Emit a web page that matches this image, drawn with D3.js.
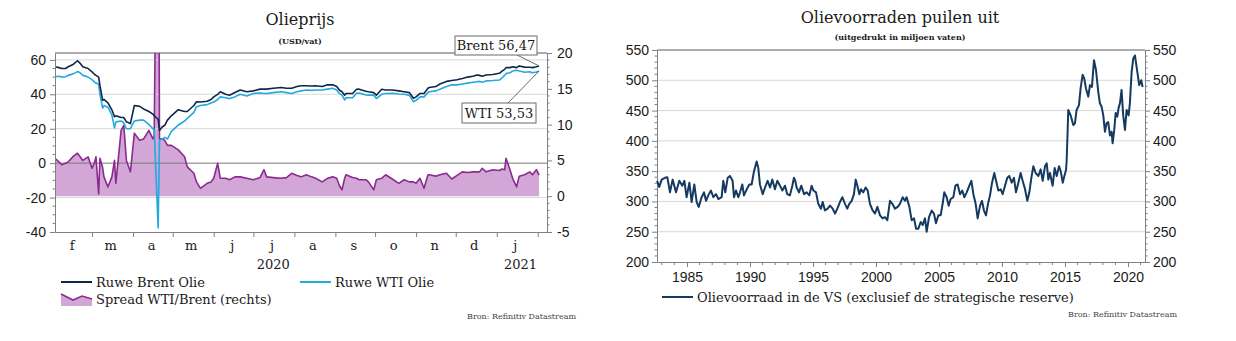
<!DOCTYPE html>
<html><head><meta charset="utf-8">
<script src="https://cdn.jsdelivr.net/npm/d3@7"></script>
<style>body{margin:0;background:#fff} svg{display:block}</style>
</head><body><svg id="c" width="1236" height="341"></svg>
<script>
// ---------- Data: oil prices (USD/barrel) ----------
const priceDates = ["2020-02-02","2020-02-05","2020-02-07","2020-02-10","2020-02-12","2020-02-16","2020-02-19","2020-02-21","2020-02-23","2020-02-27",
"2020-03-01","2020-03-03","2020-03-04","2020-03-06","2020-03-07","2020-03-09","2020-03-10","2020-03-13","2020-03-16","2020-03-18","2020-03-19","2020-03-23","2020-03-25","2020-03-27","2020-03-30",
"2020-04-02","2020-04-06","2020-04-09","2020-04-13","2020-04-16","2020-04-17","2020-04-20","2020-04-21","2020-04-23","2020-04-25","2020-04-27","2020-04-30",
"2020-05-05","2020-05-10","2020-05-12","2020-05-17","2020-05-19","2020-05-22","2020-05-27","2020-05-30",
"2020-06-01","2020-06-04","2020-06-06","2020-06-10","2020-06-13","2020-06-17","2020-06-21","2020-06-26",
"2020-07-01","2020-07-06","2020-07-09","2020-07-11","2020-07-16","2020-07-22","2020-07-26","2020-07-30",
"2020-08-03","2020-08-06","2020-08-10","2020-08-14","2020-08-17","2020-08-22","2020-08-26","2020-08-30",
"2020-09-02","2020-09-04","2020-09-06","2020-09-08","2020-09-09","2020-09-14","2020-09-17","2020-09-19","2020-09-24","2020-09-26","2020-09-30",
"2020-10-02","2020-10-06","2020-10-09","2020-10-14","2020-10-19","2020-10-23","2020-10-27","2020-10-30",
"2020-11-01","2020-11-04","2020-11-07","2020-11-10","2020-11-11","2020-11-16","2020-11-19","2020-11-24","2020-11-28",
"2020-12-02","2020-12-06","2020-12-10","2020-12-14","2020-12-17","2020-12-19","2020-12-21","2020-12-24","2020-12-29",
"2021-01-03","2021-01-05","2021-01-07","2021-01-08","2021-01-11","2021-01-13","2021-01-16","2021-01-18","2021-01-22","2021-01-26","2021-01-28","2021-01-31","2021-02-02"];
const brent = [56.0,55.5,55.0,55.0,56.0,57.5,59.5,58.0,56.0,55.0,
53.0,51.5,51.0,50.0,45.0,36.5,37.0,35.0,31.0,27.0,27.5,26.5,26.5,24.0,23.0,
33.5,33.0,31.5,30.0,28.5,27.5,25.5,19.0,21.0,22.0,25.0,27.5,
31.0,30.0,30.0,33.5,35.7,35.5,36.0,37.0,
38.5,40.0,41.5,40.0,39.5,41.0,42.5,41.5,
42.0,43.0,43.0,43.0,43.5,44.0,43.5,43.5,
44.5,45.0,45.0,44.8,45.0,44.5,45.5,45.5,
44.5,42.5,41.5,39.5,40.5,40.5,42.9,43.0,41.8,41.5,41.0,
39.5,42.9,42.5,42.5,42.0,41.5,41.0,37.7,
38.5,40.5,40.5,43.5,44.0,44.5,46.0,47.5,48.0,
48.5,49.2,50.0,50.5,51.2,51.0,50.5,51.2,51.5,
52.2,53.5,54.5,55.5,55.5,56.0,55.5,56.5,55.8,55.7,55.5,56.0,56.47];
const wti = [50.2,50.5,50.0,50.2,51.0,52.0,53.2,52.5,51.0,50.0,
48.5,47.0,46.5,46.0,40.0,32.0,33.5,32.5,28.0,20.5,24.0,24.5,23.5,20.0,20.0,
24.5,25.0,25.0,22.5,20.0,19.5,-37.6,13.5,14.0,15.0,14.0,18.5,
22.0,24.5,26.0,29.5,32.8,33.5,34.0,35.0,
35.5,37.0,38.5,38.0,37.5,38.5,40.0,39.0,
40.5,40.8,40.5,40.5,41.0,41.5,41.0,40.5,
41.5,42.0,42.5,42.3,42.5,42.5,43.0,43.5,
42.5,40.5,39.5,36.7,38.0,38.0,40.6,40.8,39.6,39.5,39.5,
37.5,40.0,40.5,40.6,40.2,40.0,39.4,35.7,
36.5,38.5,38.5,41.0,41.5,42.0,43.0,44.5,45.5,
45.5,46.0,46.5,47.0,47.3,47.5,47.0,47.8,48.0,
48.3,49.5,51.0,52.0,52.5,53.5,54.0,53.5,52.8,53.1,52.5,53.0,53.53];
const spread = [5.3,4.8,4.4,4.6,4.8,5.6,6.0,5.5,5.0,5.5,
3.9,4.8,5.5,0.3,5.3,4.0,2.7,1.3,2.7,5.0,1.8,9.2,9.9,5.0,3.4,
8.8,7.8,8.0,9.2,8.0,8.5,63.1,8.0,8.0,7.8,7.1,7.1,
6.5,5.5,4.1,3.2,2.0,1.1,1.8,2.0,
2.5,4.6,2.5,2.5,2.3,2.7,2.7,2.5,
2.3,2.6,3.7,2.7,2.6,2.5,2.6,3.2,
2.9,2.7,3.0,2.7,2.5,2.0,2.5,2.7,
2.5,1.5,0.9,2.5,3.0,2.6,2.5,2.3,2.3,2.0,0.9,
2.3,2.5,3.0,2.4,1.8,2.3,2.0,2.0,
1.8,2.5,1.1,3.0,3.0,2.8,3.0,3.2,2.4,
2.9,3.4,3.3,3.4,3.4,3.4,3.9,3.4,3.7,
3.6,3.8,3.7,5.3,3.7,2.5,1.3,2.8,3.0,3.4,3.0,3.7,2.94];
const monthLabels = ["f","m","a","m","j","j","a","s","o","n","d","j"];
const yearLabels = ["2020","2021"];
const leftTicks = [-40,-20,0,20,40,60];
const rightTicks = [-5,0,5,10,15,20];

// ---------- Data: US crude stocks (million barrels) ----------
const stockYears = [1982.63,1982.80,1982.99,1983.25,1983.44,1983.65,1983.86,1984.13,1984.39,1984.63,1984.79,1984.97,1985.19,1985.37,1985.58,1985.77,1985.93,1986.16,1986.35,1986.51,1986.69,1986.90,1987.09,1987.30,1987.49,1987.75,1987.88,1988.04,1988.23,1988.41,1988.62,1988.73,1988.89,1989.07,1989.21,1989.39,1989.52,1989.74,1989.95,1990.13,1990.32,1990.53,1990.66,1990.79,1991.01,1991.19,1991.40,1991.59,1991.77,1991.98,1992.17,1992.38,1992.57,1992.78,1992.96,1993.17,1993.36,1993.49,1993.60,1993.70,1993.89,1994.07,1994.29,1994.50,1994.71,1994.89,1995.03,1995.24,1995.42,1995.63,1995.77,1995.95,1996.16,1996.35,1996.56,1996.75,1996.93,1997.14,1997.33,1997.54,1997.72,1997.88,1998.07,1998.25,1998.39,1998.52,1998.68,1998.81,1998.99,1999.18,1999.34,1999.52,1999.74,1999.92,2000.11,2000.32,2000.53,2000.71,2000.90,2001.11,2001.30,2001.51,2001.72,2001.90,2002.12,2002.30,2002.43,2002.65,2002.83,2003.02,2003.18,2003.36,2003.55,2003.71,2003.89,2004.02,2004.21,2004.42,2004.60,2004.76,2004.95,2005.13,2005.29,2005.42,2005.61,2005.77,2005.93,2006.14,2006.30,2006.48,2006.67,2006.85,2007.01,2007.20,2007.41,2007.57,2007.73,2007.91,2008.07,2008.26,2008.41,2008.57,2008.73,2008.89,2009.05,2009.21,2009.39,2009.53,2009.71,2009.90,2010.05,2010.24,2010.42,2010.58,2010.77,2010.95,2011.11,2011.30,2011.48,2011.64,2011.83,2012.01,2012.17,2012.33,2012.49,2012.67,2012.89,2013.07,2013.23,2013.41,2013.55,2013.68,2013.81,2014.02,2014.18,2014.34,2014.53,2014.66,2014.82,2014.95,2015.08,2015.13,2015.20,2015.26,2015.45,2015.66,2015.79,2015.92,2016.11,2016.24,2016.40,2016.53,2016.66,2016.85,2016.98,2017.14,2017.30,2017.46,2017.64,2017.77,2017.91,2018.04,2018.17,2018.30,2018.43,2018.57,2018.70,2018.78,2018.91,2019.02,2019.15,2019.25,2019.36,2019.49,2019.62,2019.76,2019.89,2020.05,2020.15,2020.29,2020.42,2020.55,2020.74,2020.89,2021.05,2021.16];
const stockValues = [334,324,336,339,340,315,336,315,334,326,334,307,331,299,328,299,291,307,315,301,310,318,307,312,304,307,334,315,339,342,334,307,318,307,315,328,310,320,328,328,350,366,355,328,312,323,334,323,336,320,334,326,318,326,312,310,326,339,334,323,315,326,312,315,310,326,318,315,296,288,299,285,288,293,288,280,288,299,307,296,288,296,301,312,336,326,312,320,315,323,318,296,285,280,291,277,272,274,269,301,296,288,291,296,307,301,307,291,269,272,255,255,266,261,272,250,274,285,280,264,277,277,296,315,307,293,304,307,326,328,312,318,307,315,326,334,312,296,272,293,301,285,277,296,310,331,347,334,318,320,312,326,339,342,331,339,315,331,347,334,320,301,315,339,358,347,342,353,334,358,363,336,347,326,355,342,358,350,331,342,352,366,410,451,442,426,429,451,459,487,509,503,487,473,492,489,533,517,481,462,456,442,415,429,431,409,415,396,418,446,440,454,462,484,442,418,451,442,462,514,536,541,514,492,500,489];
const stockTicksY = [200,250,300,350,400,450,500,550];
const stockTicksX = [1985,1990,1995,2000,2005,2010,2015,2020];

// ---------- Rendering ----------
const SERIF = "'DejaVu Serif', 'Liberation Serif', serif";
const SANS = "'Liberation Sans', Arial, sans-serif";
const svg = d3.select("#c");
const defs = svg.append("defs");

function styleAxis(g, size) {
  g.selectAll("path.domain").attr("stroke", "#808080").attr("stroke-width", 1);
  g.selectAll(".tick line").attr("stroke", "#808080");
  g.selectAll(".tick text").attr("font-family", SANS).attr("font-size", size || 14).attr("fill", "#1a1a1a");
}

// ===== Left chart =====
const L = {x0: 55, x1: 547, y0: 53, y1: 232};
const parse = d3.timeParse("%Y-%m-%d");
const dts = priceDates.map(parse);
const idx = d3.range(dts.length);
const xL = d3.scaleTime().domain([new Date(2020, 1, 2), new Date(2021, 1, 8)]).range([L.x0, L.x1]);
const yL = d3.scaleLinear().domain([-40, 64]).range([L.y1, L.y0]);
const yR = d3.scaleLinear().domain([-5, 20]).range([L.y1, L.y0]);

defs.append("clipPath").attr("id", "clipL").append("rect")
  .attr("x", L.x0).attr("y", L.y0).attr("width", L.x1 - L.x0).attr("height", L.y1 - L.y0);

const gL = svg.append("g");
gL.append("path").attr("clip-path", "url(#clipL)")
  .attr("fill", "#d2a6d6")
  .attr("d", d3.area().x(i => xL(dts[i])).y0(yR(0)).y1(i => yR(spread[i]))(idx));

// grid
leftTicks.filter(v => v > -40).forEach(v => {
  gL.append("line").attr("x1", L.x0).attr("x2", L.x1).attr("y1", yL(v)).attr("y2", yL(v))
    .attr("stroke", v === 0 ? "#7a7a7a" : "#d9d9d9").attr("stroke-width", 1);
});
gL.append("line").attr("x1", L.x0).attr("x2", L.x1).attr("y1", L.y0).attr("y2", L.y0)
  .attr("stroke", "#5a5a5a").attr("stroke-width", 1);

const lineOf = (arr, y) => d3.line().x(i => xL(dts[i])).y(i => y(arr[i]))(idx);
gL.append("path").attr("clip-path", "url(#clipL)").attr("fill", "none")
  .attr("stroke", "#8a2b8e").attr("stroke-width", 1.6).attr("stroke-linejoin", "round")
  .attr("d", lineOf(spread, yR));
gL.append("path").attr("clip-path", "url(#clipL)").attr("fill", "none")
  .attr("stroke", "#22a9e0").attr("stroke-width", 1.6).attr("stroke-linejoin", "round")
  .attr("d", lineOf(wti, yL));
gL.append("path").attr("clip-path", "url(#clipL)").attr("fill", "none")
  .attr("stroke", "#0f2746").attr("stroke-width", 1.6).attr("stroke-linejoin", "round")
  .attr("d", lineOf(brent, yL));

// axes
const axL = gL.append("g").attr("transform", `translate(${L.x0},0)`)
  .call(d3.axisLeft(yL).tickValues(leftTicks).tickFormat(d => String(d)).tickSize(5).tickSizeOuter(0).tickPadding(4));
styleAxis(axL, 14);
d3.range(-40, 61, 5).filter(v => v % 20 !== 0).forEach(v => {
  gL.append("line").attr("x1", L.x0 - 2.5).attr("x2", L.x0).attr("y1", yL(v)).attr("y2", yL(v)).attr("stroke", "#808080");
});
const axR = gL.append("g").attr("transform", `translate(${L.x1},0)`)
  .call(d3.axisRight(yR).tickValues(rightTicks).tickFormat(d => String(d)).tickSize(5).tickSizeOuter(0).tickPadding(5));
styleAxis(axR, 14);
d3.range(-5, 20.1, 1).filter(v => v % 5 !== 0).forEach(v => {
  gL.append("line").attr("x1", L.x1).attr("x2", L.x1 + 2.5).attr("y1", yR(v)).attr("y2", yR(v)).attr("stroke", "#808080");
});
const monthStarts = d3.timeMonth.range(new Date(2020, 2, 1), new Date(2021, 1, 2));
const axB = gL.append("g").attr("transform", `translate(0,${L.y1})`)
  .call(d3.axisBottom(xL).tickValues(monthStarts).tickFormat("").tickSize(5).tickSizeOuter(0));
styleAxis(axB);
monthLabels.forEach((m, i) => {
  gL.append("text").attr("x", xL(new Date(2020, 1 + i, 15))).attr("y", 250)
    .attr("text-anchor", "middle").attr("font-family", SERIF).attr("font-size", 13).attr("fill", "#1a1a1a").text(m);
});
[new Date(2020, 6, 16), new Date(2021, 0, 19)].forEach((d, i) => {
  gL.append("text").attr("x", xL(d)).attr("y", 269)
    .attr("text-anchor", "middle").attr("font-family", SERIF).attr("font-size", 13).attr("fill", "#1a1a1a").text(yearLabels[i]);
});

// titles
svg.append("text").attr("x", 300).attr("y", 25).attr("text-anchor", "middle")
  .attr("font-family", SERIF).attr("font-size", 16).attr("fill", "#1a1a1a").text("Olieprijs");
svg.append("text").attr("x", 300).attr("y", 44).attr("text-anchor", "middle")
  .attr("font-family", SERIF).attr("font-weight", "bold").attr("font-size", 8).attr("fill", "#1a1a1a").text("(USD/vat)");

// annotations
const last = dts.length - 1;
const fmt = v => v.toFixed(2).replace(".", ",");
function annot(label, bx, by, bw, bh, ax, ay, px, py) {
  gL.append("line").attr("x1", ax).attr("y1", ay).attr("x2", px).attr("y2", py).attr("stroke", "#6a6a6a").attr("stroke-width", 1);
  gL.append("rect").attr("x", bx).attr("y", by).attr("width", bw).attr("height", bh)
    .attr("fill", "#fff").attr("stroke", "#6a6a6a").attr("stroke-width", 1);
  gL.append("text").attr("x", bx + bw / 2).attr("y", by + bh - 5).attr("text-anchor", "middle")
    .attr("font-family", SERIF).attr("font-size", 13).attr("fill", "#1a1a1a").text(label);
}
annot("Brent " + fmt(brent[last]), 455, 36, 82, 19, 517, 55, xL(dts[last]), yL(brent[last]));
annot("WTI " + fmt(wti[last]), 462, 103, 74, 20, 508, 103, xL(dts[last]), yL(wti[last]));

// legend
const lg = svg.append("g");
lg.append("line").attr("x1", 61).attr("x2", 92).attr("y1", 282).attr("y2", 282).attr("stroke", "#0f2746").attr("stroke-width", 2);
lg.append("text").attr("x", 96).attr("y", 286.5).attr("font-family", SERIF).attr("font-size", 13).attr("fill", "#1a1a1a").text("Ruwe Brent Olie");
lg.append("line").attr("x1", 300).attr("x2", 331).attr("y1", 282).attr("y2", 282).attr("stroke", "#22a9e0").attr("stroke-width", 2);
lg.append("text").attr("x", 335).attr("y", 286.5).attr("font-family", SERIF).attr("font-size", 13).attr("fill", "#1a1a1a").text("Ruwe WTI Olie");
lg.append("path").attr("d", "M61,294 L73,300 L82,296 L92,299 L92,306 L61,306 Z").attr("fill", "#d2a6d6");
lg.append("path").attr("d", "M61,294 L73,300 L82,296 L92,299").attr("fill", "none").attr("stroke", "#8a2b8e").attr("stroke-width", 1.6);
lg.append("text").attr("x", 96).attr("y", 303.5).attr("font-family", SERIF).attr("font-size", 13).attr("fill", "#1a1a1a").text("Spread WTI/Brent (rechts)");
svg.append("text").attr("x", 576).attr("y", 319).attr("text-anchor", "end")
  .attr("font-family", SERIF).attr("font-size", 8).attr("fill", "#444").text("Bron: Refinitiv Datastream");

// ===== Right chart =====
const R = {x0: 657, x1: 1145, y0: 50, y1: 262};
const xS = d3.scaleLinear().domain([1982.62, 2021.35]).range([R.x0, R.x1]);
const yS = d3.scaleLinear().domain([200, 550]).range([R.y1, R.y0]);
const gR = svg.append("g");
stockTicksY.filter(v => v > 200 && v < 550).forEach(v => {
  gR.append("line").attr("x1", R.x0).attr("x2", R.x1).attr("y1", yS(v)).attr("y2", yS(v)).attr("stroke", "#d9d9d9").attr("stroke-width", 1);
});
gR.append("line").attr("x1", R.x0).attr("x2", R.x1).attr("y1", R.y0).attr("y2", R.y0).attr("stroke", "#5a5a5a").attr("stroke-width", 1);

const axSL = gR.append("g").attr("transform", `translate(${R.x0},0)`)
  .call(d3.axisLeft(yS).tickValues(stockTicksY).tickSize(5).tickSizeOuter(0).tickPadding(3));
styleAxis(axSL, 14);
const axSR = gR.append("g").attr("transform", `translate(${R.x1},0)`)
  .call(d3.axisRight(yS).tickValues(stockTicksY).tickSize(5).tickSizeOuter(0).tickPadding(3));
styleAxis(axSR, 14);
d3.range(200, 551, 10).filter(v => v % 50 !== 0).forEach(v => {
  gR.append("line").attr("x1", R.x0 - 2.5).attr("x2", R.x0).attr("y1", yS(v)).attr("y2", yS(v)).attr("stroke", "#808080");
  gR.append("line").attr("x1", R.x1).attr("x2", R.x1 + 2.5).attr("y1", yS(v)).attr("y2", yS(v)).attr("stroke", "#808080");
});
const axSB = gR.append("g").attr("transform", `translate(0,${R.y1})`)
  .call(d3.axisBottom(xS).tickValues(stockTicksX).tickFormat(d => String(d)).tickSize(5).tickSizeOuter(0).tickPadding(5));
styleAxis(axSB, 14);
d3.range(1983, 2022).filter(v => v % 5 !== 0).forEach(v => {
  gR.append("line").attr("x1", xS(v)).attr("x2", xS(v)).attr("y1", R.y1).attr("y2", R.y1 + 3).attr("stroke", "#808080");
});
gR.append("path").attr("fill", "none").attr("stroke", "#143a62").attr("stroke-width", 2).attr("stroke-linejoin", "round")
  .attr("d", d3.line().x(i => xS(stockYears[i])).y(i => yS(stockValues[i]))(d3.range(stockYears.length)));

svg.append("text").attr("x", 900).attr("y", 23).attr("text-anchor", "middle")
  .attr("font-family", SERIF).attr("font-size", 16).attr("fill", "#1a1a1a").text("Olievoorraden puilen uit");
svg.append("text").attr("x", 900).attr("y", 40).attr("text-anchor", "middle")
  .attr("font-family", SERIF).attr("font-weight", "bold").attr("font-size", 8).attr("fill", "#1a1a1a").text("(uitgedrukt in miljoen vaten)");
svg.append("line").attr("x1", 662).attr("x2", 693).attr("y1", 297).attr("y2", 297).attr("stroke", "#143a62").attr("stroke-width", 2);
svg.append("text").attr("x", 697).attr("y", 301.5).attr("font-family", SERIF).attr("font-size", 13).attr("fill", "#1a1a1a")
  .text("Olievoorraad in de VS (exclusief de strategische reserve)");
svg.append("text").attr("x", 1177).attr("y", 317).attr("text-anchor", "end")
  .attr("font-family", SERIF).attr("font-size", 8).attr("fill", "#444").text("Bron: Refinitiv Datastream");
</script>
</body></html>
